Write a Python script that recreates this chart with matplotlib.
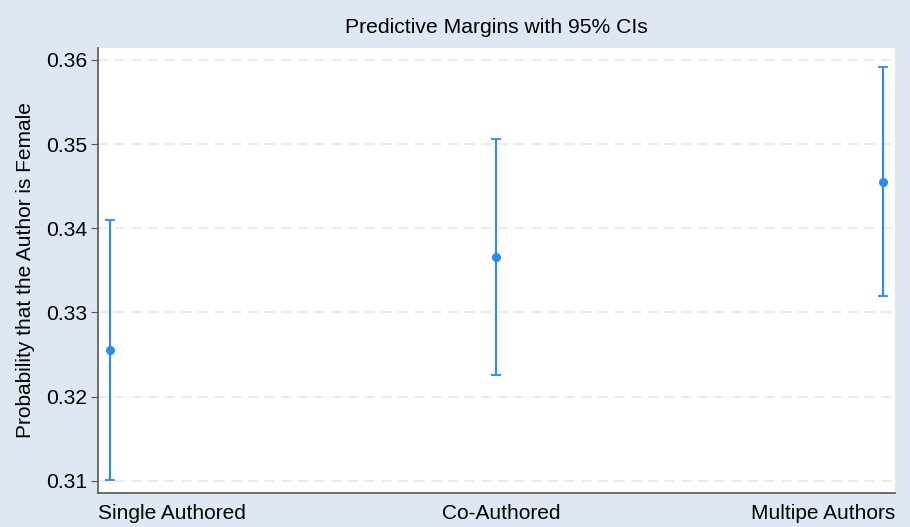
import matplotlib.pyplot as plt
from matplotlib.transforms import ScaledTranslation

plt.rcParams['font.family'] = ['Liberation Sans', 'DejaVu Sans']

# Predictive margins with 95% CIs
categories = ['Single Authored', 'Co-Authored', 'Multipe Authors']
margins = [0.3256, 0.3366, 0.3455]
ci_low = [0.3101, 0.3226, 0.3320]
ci_high = [0.3410, 0.3506, 0.3591]
yticks = [0.31, 0.32, 0.33, 0.34, 0.35, 0.36]

bg = '#dde8f4'
blue = '#2a8af6'

fig = plt.figure(figsize=(9.1, 5.27), dpi=100, facecolor=bg)
ax = fig.add_axes([0.1077, 0.0645, 0.8758, 0.8444])
ax.set_facecolor('white')

x = [1, 2, 3]
err_lo = [m - l for m, l in zip(margins, ci_low)]
err_hi = [h - m for m, h in zip(margins, ci_high)]
ax.errorbar(x, margins, yerr=[err_lo, err_hi], fmt='o', color=blue,
            ecolor=blue, elinewidth=1.5, capsize=3.5, capthick=1.3,
            markersize=5.5, zorder=3)

ax.set_xlim(0.969, 3.031)
ax.set_ylim(0.30857, 0.3614)
ax.set_xticks(x)
ax.set_xticklabels(categories, fontsize=15)
ax.set_yticks(yticks)
ax.set_yticklabels([f'{t:.2f}' for t in yticks], fontsize=15.2)
ax.tick_params(axis='x', length=0, pad=8)
ax.tick_params(axis='y', length=5, color='#555555', pad=3)

# Stata-style: outer labels flush with the plot edges
shifts = [(-12, 'left'), (5, 'center'), (12, 'right')]
for lab, (dx, ha) in zip(ax.get_xticklabels(), shifts):
    lab.set_ha(ha)
    lab.set_transform(lab.get_transform() + ScaledTranslation(dx / 100, 0, fig.dpi_scale_trans))

ax.grid(axis='y', linestyle=(0, (6, 4)), color='#e8e8e8', linewidth=1.2, zorder=0)
ax.set_axisbelow(True)

for side in ['top', 'right']:
    ax.spines[side].set_visible(False)
for side in ['left', 'bottom']:
    ax.spines[side].set_color('#555555')
    ax.spines[side].set_linewidth(1.2)

ax.set_ylabel('Probability that the Author is Female', fontsize=15, labelpad=8)
ax.set_title('Predictive Margins with 95% CIs', fontsize=15.2, pad=11)

plt.savefig('out.png', dpi=100, facecolor=bg)
